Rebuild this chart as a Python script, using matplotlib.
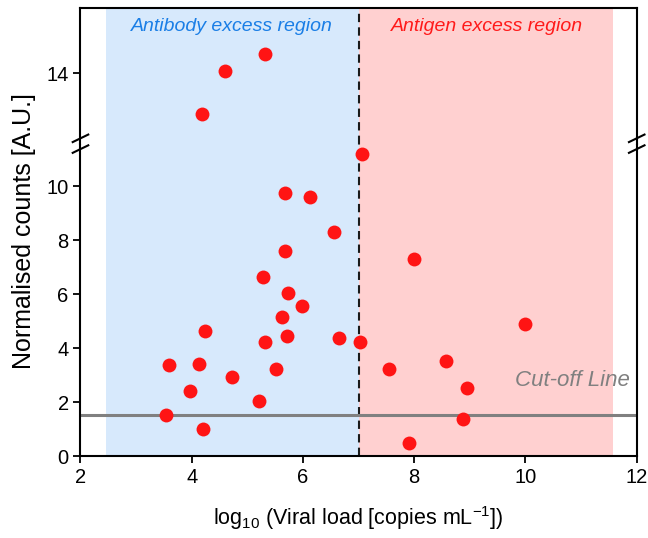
import numpy as np
import matplotlib.pyplot as plt

plt.rcParams['font.family'] = ['Liberation Sans', 'DejaVu Sans']
plt.rcParams['mathtext.fontset'] = 'custom'
plt.rcParams['mathtext.rm'] = 'Liberation Sans'
plt.rcParams['mathtext.it'] = 'Liberation Sans:italic'

# log10 viral load and normalised counts
viral_load = [7.07, 5.68, 6.13, 6.56, 5.67, 8.00, 5.29, 5.73, 5.98, 5.63,
              4.24, 5.71, 5.31, 6.64, 7.03, 3.59, 4.13, 5.51, 4.72, 3.97,
              5.21, 3.54, 4.20, 10.00, 7.55, 8.57, 8.95, 8.87, 7.91,
              4.18, 4.60, 5.32]
counts = [11.22, 9.75, 9.61, 8.30, 7.62, 7.33, 6.66, 6.04, 5.58, 5.15,
          4.64, 4.46, 4.24, 4.38, 4.25, 3.39, 3.44, 3.23, 2.94, 2.44,
          2.04, 1.54, 1.02, 4.91, 3.23, 3.54, 2.55, 1.39, 0.51,
          12.50, 14.10, 14.70]

cutoff = 1.53
boundary = 7.0
antibody_span = (2.45, 7.0)
antigen_span = (7.0, 11.58)
lower_lim = (0, 11.585)
upper_lim = (11.39, 16.42)
lower_ticks = [0, 2, 4, 6, 8, 10]
upper_ticks = [14]
x_ticks = [2, 4, 6, 8, 10, 12]

x = np.array(viral_load)
y = np.array(counts)
high = y > 12

fig = plt.figure(figsize=(6.48, 5.38), dpi=100)
ax_lo = fig.add_axes([0.1242, 0.1515, 0.8584, 0.5814])
ax_hi = fig.add_axes([0.1242, 0.7329, 0.8584, 0.2522], sharex=ax_lo)

for ax in (ax_lo, ax_hi):
    ax.axvspan(*antibody_span, color='#d7e9fc', lw=0, zorder=0)
    ax.axvspan(*antigen_span, color='#ffd0d0', lw=0, zorder=0)
    ax.axvline(boundary, color='#1a1a1a', ls=(0, (4, 2.5)), lw=1.5, zorder=1)
    for s in ax.spines.values():
        s.set_linewidth(1.5)
    ax.tick_params(direction='out', length=5, width=1.3, labelsize=14.5)

ax_lo.axhline(cutoff, color='#808080', lw=2.2, zorder=2)
ax_lo.scatter(x[~high], y[~high], s=100, color='#ff1414', lw=0, zorder=3)
ax_hi.scatter(x[high], y[high], s=100, color='#ff1414', lw=0, zorder=3)

ax_lo.set_xlim(2, 12)
ax_lo.set_ylim(*lower_lim)
ax_hi.set_ylim(*upper_lim)
ax_lo.set_xticks(x_ticks)
ax_lo.set_yticks(lower_ticks)
ax_hi.set_yticks(upper_ticks)

ax_lo.spines['top'].set_visible(False)
ax_hi.spines['bottom'].set_visible(False)
ax_hi.tick_params(axis='x', bottom=False, labelbottom=False)

ax_hi.text(4.73, 15.72, 'Antibody excess region', color='#1a7ee6',
           style='italic', fontsize=14, ha='center', va='center')
ax_hi.text(9.31, 15.72, 'Antigen excess region', color='#ff1a1a',
           style='italic', fontsize=14, ha='center', va='center')
ax_lo.text(11.88, 2.81, 'Cut-off Line', color='#808080',
           style='italic', fontsize=16, ha='right', va='center')

ax_lo.set_xlabel('log$_{10}$ (Viral load [copies mL$^{-1}$])', fontsize=15.5,
                 labelpad=12)
fig.text(0.037, 0.57, 'Normalised counts [A.U.]', rotation=90, fontsize=18,
         ha='center', va='center')

# axis break marks on both spines
yb = 0.7329
dx, dy = 0.012, 0.007
for xb in (0.1242, 0.9826):
    for off in (-0.010, 0.010):
        fig.add_artist(plt.Line2D([xb - dx, xb + dx],
                                  [yb + off - dy, yb + off + dy],
                                  color='black', lw=1.5))

fig.savefig('out.png', dpi=100)
